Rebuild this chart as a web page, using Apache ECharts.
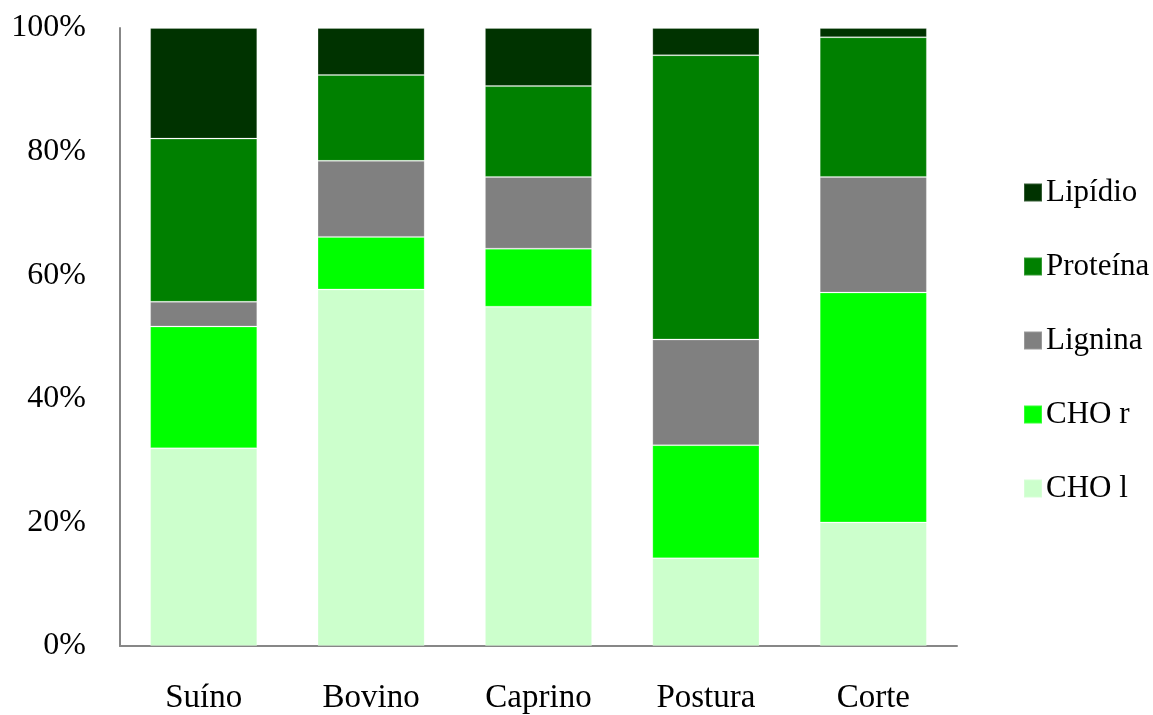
<!DOCTYPE html>
<html><head><meta charset="utf-8">
<script src="https://cdn.jsdelivr.net/npm/echarts@6/dist/echarts.min.js"></script>
<style>html,body{margin:0;padding:0;background:#fff}#c{width:1153px;height:715px}</style>
</head><body><div id="c"></div>
<script>
const categories = ['Suíno', 'Bovino', 'Caprino', 'Postura', 'Corte'];
const choL = [32.0, 57.7, 54.9, 14.2, 20.0];
const choR = [19.7, 8.5, 9.4, 18.3, 37.2];
const lignina = [4.0, 12.3, 11.6, 17.1, 18.7];
const proteina = [26.4, 13.9, 14.7, 46.0, 22.6];
const lipidio = [17.9, 7.6, 9.4, 4.4, 1.5];
const yTicks = [0, 20, 40, 60, 80, 100];

const font = 'Liberation Serif';
function s(name, data, color) {
  return { name, type: 'bar', stack: 'a', data, barWidth: '64%',
    itemStyle: { color, borderColor: 'rgba(255,255,255,0.2)', borderWidth: 1 } };
}
const chart = echarts.init(document.getElementById('c'));
chart.setOption({
  animation: false,
  textStyle: { fontFamily: font },
  grid: { left: 120, right: 196, top: 28, bottom: 68, containLabel: false },
  xAxis: { type: 'category', data: categories,
    axisLine: { lineStyle: { color: '#878787', width: 2 } },
    axisTick: { show: false },
    axisLabel: { color: '#000', fontSize: 33, fontFamily: font, margin: 36 } },
  yAxis: { type: 'value', min: 0, max: 100, interval: 20,
    axisLine: { show: true, lineStyle: { color: '#878787', width: 2 } },
    axisTick: { show: false }, splitLine: { show: false },
    axisLabel: { color: '#000', fontSize: 32, fontFamily: font, margin: 34,
      padding: [6, 0, 0, 0],
      formatter: v => yTicks.includes(v) ? v + '%' : '' } },
  legend: { orient: 'vertical', left: 1018, top: 172, itemWidth: 18, itemHeight: 18,
    itemGap: 43, icon: 'rect',
    data: ['Lipídio', 'Proteína', 'Lignina', 'CHO r', 'CHO l'],
    textStyle: { color: '#000', fontSize: 31, fontFamily: font, padding: [0, 0, 0, -1] } },
  series: [
    s('CHO l', choL, '#CCFFCC'),
    s('CHO r', choR, '#00FF00'),
    s('Lignina', lignina, '#808080'),
    s('Proteína', proteina, '#008000'),
    s('Lipídio', lipidio, '#003300')
  ]
});
</script></body></html>
